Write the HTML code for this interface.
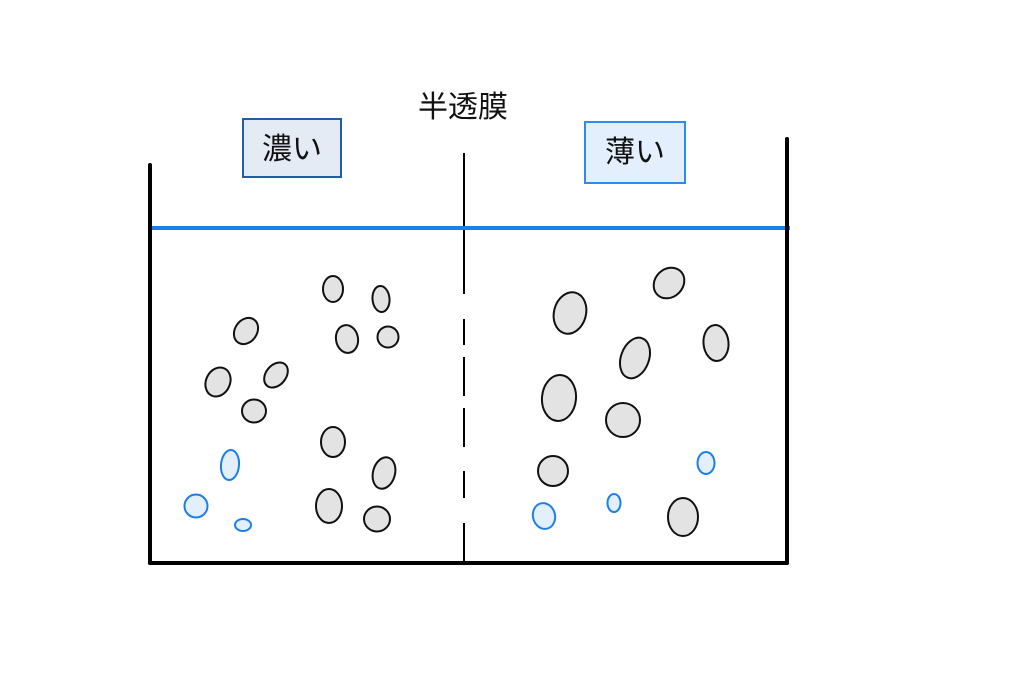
<!DOCTYPE html>
<html><head><meta charset="utf-8"><style>
html,body{margin:0;padding:0;background:#fff;}
svg{display:block;}
text{font-family:"Liberation Sans","Noto Sans CJK JP",sans-serif;}
</style></head><body>
<svg width="1024" height="690" viewBox="0 0 1024 690" xmlns="http://www.w3.org/2000/svg">
<rect width="1024" height="690" fill="#fff"/>
<text x="463" y="117" font-size="30" text-anchor="middle" fill="#111">半透膜</text>
<rect x="243" y="119" width="98" height="58" fill="#e4ebf4" stroke="#1f5fa8" stroke-width="2"/>
<text x="292" y="159" font-size="30" text-anchor="middle" fill="#111">濃い</text>
<rect x="585" y="122" width="100" height="61" fill="#e3effd" stroke="#2a8cf0" stroke-width="2"/>
<text x="635" y="162" font-size="30" text-anchor="middle" fill="#111">薄い</text>
<g stroke="#000" stroke-width="2">
<line x1="464" y1="153" x2="464" y2="294"/>
<line x1="464" y1="319" x2="464" y2="345"/>
<line x1="464" y1="357" x2="464" y2="396"/>
<line x1="464" y1="408" x2="464" y2="447"/>
<line x1="464" y1="471" x2="464" y2="498"/>
<line x1="464" y1="523" x2="464" y2="563"/>
</g>
<line x1="148" y1="228" x2="790" y2="228" stroke="#1a7fe8" stroke-width="4"/>
<g stroke="#000" stroke-width="4" stroke-linecap="round">
<line x1="150" y1="165" x2="150" y2="563"/>
<line x1="787" y1="139" x2="787" y2="563"/>
<line x1="150" y1="563" x2="787" y2="563"/>
</g>
<g fill="#e3e3e3" stroke="#111" stroke-width="2">
<ellipse cx="333" cy="289" rx="10" ry="13"/>
<ellipse cx="381" cy="299" rx="8.5" ry="13" transform="rotate(-5 381 299)"/>
<ellipse cx="246" cy="331" rx="11" ry="14" transform="rotate(35 246 331)"/>
<ellipse cx="347" cy="339" rx="11" ry="14" transform="rotate(-10 347 339)"/>
<ellipse cx="388" cy="337" rx="10.5" ry="10.5"/>
<ellipse cx="218" cy="382" rx="12" ry="15" transform="rotate(25 218 382)"/>
<ellipse cx="276" cy="375" rx="10" ry="14" transform="rotate(40 276 375)"/>
<ellipse cx="254" cy="411" rx="12" ry="11.5"/>
<ellipse cx="333" cy="442" rx="12" ry="15"/>
<ellipse cx="384" cy="473" rx="11" ry="16" transform="rotate(15 384 473)"/>
<ellipse cx="329" cy="506" rx="13" ry="17"/>
<ellipse cx="377" cy="519" rx="13" ry="12.5"/>
<ellipse cx="669" cy="283" rx="14" ry="16.5" transform="rotate(45 669 283)"/>
<ellipse cx="570" cy="313" rx="16" ry="21" transform="rotate(15 570 313)"/>
<ellipse cx="716" cy="343" rx="12.5" ry="18" transform="rotate(-5 716 343)"/>
<ellipse cx="635" cy="358" rx="14" ry="21" transform="rotate(20 635 358)"/>
<ellipse cx="559" cy="398" rx="17" ry="23" transform="rotate(5 559 398)"/>
<ellipse cx="623" cy="420" rx="17" ry="17"/>
<ellipse cx="553" cy="471" rx="15" ry="15"/>
<ellipse cx="683" cy="517" rx="15" ry="19"/>
</g>
<g fill="#e3effd" stroke="#1a7fe8" stroke-width="2">
<ellipse cx="230" cy="465" rx="9" ry="15" transform="rotate(5 230 465)"/>
<ellipse cx="196" cy="506" rx="11.5" ry="11.5"/>
<ellipse cx="243" cy="525" rx="8" ry="6"/>
<ellipse cx="706" cy="463" rx="8.5" ry="11"/>
<ellipse cx="614" cy="503" rx="6.5" ry="9"/>
<ellipse cx="544" cy="516" rx="11" ry="13" transform="rotate(-15 544 516)"/>
</g>
</svg>
</body></html>
